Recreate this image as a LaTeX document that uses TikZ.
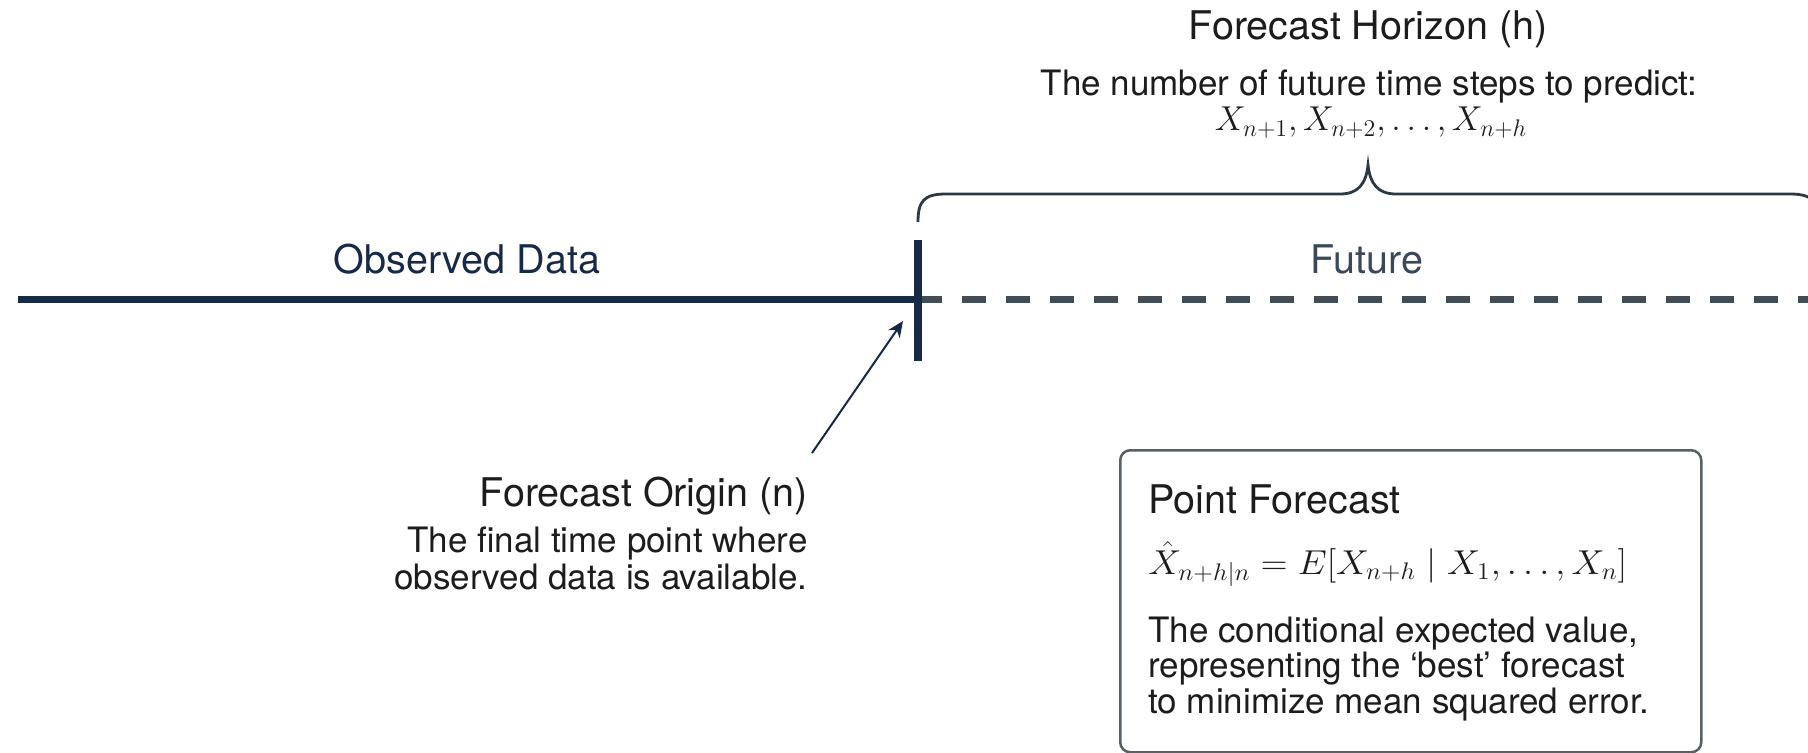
\documentclass[tikz,border=0pt]{standalone}
\usepackage[no-math]{fontspec}
\setmainfont{TeX Gyre Heros}
\usetikzlibrary{arrows.meta}
\definecolor{navy}{RGB}{22,42,72}
\definecolor{slate}{RGB}{64,76,86}
\definecolor{futuretext}{RGB}{58,72,88}
\definecolor{ink}{RGB}{28,28,28}
\definecolor{boxline}{RGB}{88,96,102}
\definecolor{braceline}{RGB}{44,56,68}

\begin{document}
\begin{tikzpicture}[x=0.5pt,y=-0.5pt,
  heading/.style={font=\fontsize{19.75}{22}\selectfont, text=ink, inner sep=0pt},
  body/.style={font=\fontsize{17.5}{20}\selectfont, text=ink, inner sep=0pt},
  axislabel/.style={font=\fontsize{19.75}{22}\selectfont, inner sep=0pt},
  mathtext/.style={font=\fontsize{17.6}{20}\selectfont, text=ink, inner sep=0pt},
  formulatext/.style={font=\fontsize{18}{20}\selectfont, text=ink, inner sep=0pt},
  timeline/.style={line width=3.5pt},
]
\fill[white] (0,0) rectangle (1808,753);
\useasboundingbox (0,0) rectangle (1808,753);
\clip (0,0) rectangle (1808,753);

% time axis: observed part, future part and the origin tick
\coordinate (start) at (18,300);
\coordinate (origin) at (918,300);
\coordinate (end) at (1830,300);
\coordinate (ticktop) at (918,240);
\coordinate (tickbottom) at (918,361);
\draw[timeline, navy] (start) -- (origin);
\draw[timeline, slate, dash pattern=on 12pt off 10pt] (origin) -- (end);
\draw[navy, line width=4pt] (ticktop) -- (tickbottom);

\node[axislabel, text=navy, anchor=base] (observed) at (467,274) {Observed Data};
\node[axislabel, text=futuretext, anchor=base] (future) at (1367,274) {Future};

% brace over the forecast horizon
\draw[braceline, line width=1.4pt]
  (918,222) .. controls (918,201) and (924,194) .. (946,194)
  -- (1340,194) .. controls (1358,194) and (1366,184) .. (1368,165)
  .. controls (1370,184) and (1378,194) .. (1396,194)
  -- (1790,194) .. controls (1812,194) and (1818,201) .. (1818,222);

\node[heading, anchor=base] (horizon) at (1368,40) {Forecast Horizon (h)};
\node[body, anchor=base] (horizondesc) at (1369,96) {The number of future time steps to predict:};
\node[mathtext, anchor=base] (horizonmath) at (1371,131) {$X_{n+1}, X_{n+2}, \ldots, X_{n+h}$};

% forecast origin annotation
\node[heading, anchor=base east] (origintitle) at (808,506) {Forecast Origin (n)};
\node[body, anchor=base east] (originline1) at (808,552) {The final time point where};
\node[body, anchor=base east] (originline2) at (808,589) {observed data is available.};
\coordinate (arrowtail) at (812,453);
\coordinate (arrowtip) at (903,321);
\draw[navy, line width=1pt, -{Stealth[length=8pt,width=7pt,inset=2.5pt]}] (arrowtail) -- (arrowtip);

% point forecast box
\node[draw=boxline, line width=1.25pt, rounded corners=5pt, minimum width=290.5pt,
  minimum height=151pt, anchor=north west, inner sep=0pt] (pointbox) at (1119,449) {};
\node[heading, anchor=base west] (pftitle) at (1148,513) {Point Forecast};
\node[formulatext, anchor=base west] (pfformula) at (1148,574)
  {\scalebox{1.07}[1]{$\hat{X}_{n+h|n} = E[X_{n+h} \mid X_1,\ldots,X_n]$}};
\node[body, anchor=base west] (pfline1) at (1148,642) {The conditional expected value,};
\node[body, anchor=base west] (pfline2) at (1148,677) {representing the ‘best’ forecast};
\node[body, anchor=base west] (pfline3) at (1148,713) {to minimize mean squared error.};
\end{tikzpicture}
\end{document}
